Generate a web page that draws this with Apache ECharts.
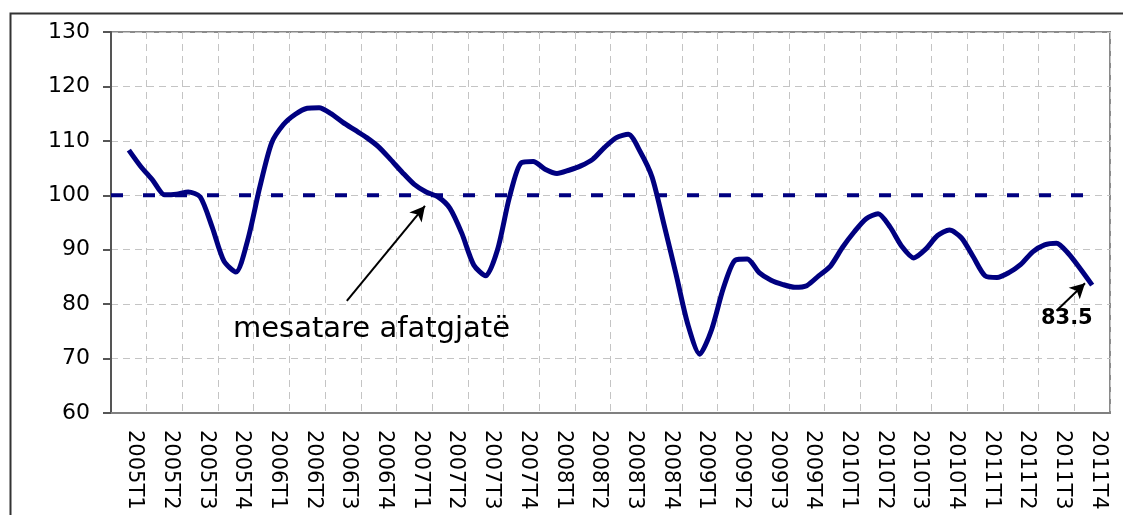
<!DOCTYPE html>
<html>
<head>
<meta charset="utf-8">
<title>mesatare afatgjatë</title>
<script src="https://cdn.jsdelivr.net/npm/echarts@6/dist/echarts.min.js"></script>
<style>
  html, body { margin: 0; padding: 0; background: #fff; }
  #chart { width: 1123px; height: 515px; }
</style>
</head>
<body>
<div id="chart"></div>
<script>
  // quarter labels on the x axis
  let quarters = [
    '2005T1', '2005T2', '2005T3', '2005T4',
    '2006T1', '2006T2', '2006T3', '2006T4',
    '2007T1', '2007T2', '2007T3', '2007T4',
    '2008T1', '2008T2', '2008T3', '2008T4',
    '2009T1', '2009T2', '2009T3', '2009T4',
    '2010T1', '2010T2', '2010T3', '2010T4',
    '2011T1', '2011T2', '2011T3', '2011T4'
  ];
  // monthly index, from the middle of 2005T1 to the middle of 2011T4
  let indexValues = [
    108.3, 105.3, 102.8, 100.1, 100.2, 100.6, 99.7, 94.2, 87.9, 85.9,
    91.8, 101.4, 109.6, 113.0, 114.9, 116.0, 116.1, 115.0, 113.4, 112.0,
    110.6, 108.9, 106.6, 104.2, 102.0, 100.6, 99.7, 97.6, 93.0, 87.2,
    85.2, 90.0, 99.6, 106.0, 106.2, 104.8, 104.0, 104.6, 105.4, 106.6,
    108.8, 110.6, 111.2, 108.0, 103.3, 94.6, 85.6, 76.3, 70.8, 75.3,
    83.0, 88.1, 88.3, 85.8, 84.4, 83.6, 83.1, 83.4, 85.2, 87.0,
    90.4, 93.3, 95.7, 96.6, 94.2, 90.6, 88.5, 90.1, 92.6, 93.6,
    92.2, 88.7, 85.2, 84.9, 85.8, 87.3, 89.6, 90.9, 91.2, 89.3,
    86.5, 83.5
  ];
  // long term average
  let longTermAvg = 100;
  let yTicks = [60, 70, 80, 90, 100, 110, 120, 130];

  // annotations (x in quarters, y in index points)
  let avgArrow = [[6.61, 80.6], [8.80, 98.05]];
  let avgText = { coord: [7.30, 75.4], text: 'mesatare afatgjatë' };
  let lastArrow = [[26.50, 78.8], [27.30, 83.85]];
  let lastText = { coord: [26.79, 77.3], text: '83.5' };

  // month i sits at quarter 0.5 + i/3 on the hidden value axis
  let lineData = indexValues.map(function (v, i) { return [0.5 + i / 3, v]; });
  let avgData = [[0, longTermAvg], [0.5 + (indexValues.length - 1) / 3, longTermAvg]];

  let gridDash = { color: '#c4c4c4', width: 1, type: [7, 5] };

  let chart = echarts.init(document.getElementById('chart'));
  chart.setOption({
    animation: false,
    backgroundColor: '#fff',
    textStyle: { fontFamily: 'DejaVu Sans' },
    grid: {
      left: 111, right: 13, top: 32, bottom: 102,
      show: true, borderColor: '#8a8a8a', borderWidth: 2, backgroundColor: '#fff'
    },
    graphic: [{
      type: 'rect',
      left: 8, top: 11,
      shape: { width: 1300, height: 700 },
      style: { fill: 'none', stroke: '#333', lineWidth: 2 },
      silent: true
    }],
    xAxis: [{
      type: 'category',
      data: quarters,
      boundaryGap: true,
      axisLine: { lineStyle: { color: '#808080', width: 2 } },
      axisTick: { show: false },
      axisLabel: {
        rotate: -90, interval: 0, margin: 17,
        color: '#000', fontSize: 21, fontFamily: 'DejaVu Sans',
        verticalAlign: 'bottom', lineHeight: 12
      },
      splitLine: { show: true, interval: 0, lineStyle: gridDash }
    }, {
      type: 'value',
      min: 0, max: quarters.length,
      show: false
    }],
    yAxis: {
      type: 'value',
      min: yTicks[0], max: yTicks[yTicks.length - 1], interval: 10,
      axisLine: { show: true, lineStyle: { color: '#555', width: 2 } },
      axisTick: { show: true, length: 8, lineStyle: { color: '#555', width: 2 } },
      axisLabel: { color: '#000', fontSize: 22, margin: 21, fontFamily: 'DejaVu Sans' },
      splitLine: { show: true, lineStyle: gridDash }
    },
    series: [{
      name: 'mesatare afatgjatë',
      type: 'line',
      xAxisIndex: 1,
      data: avgData,
      showSymbol: false,
      silent: true,
      lineStyle: { color: '#000080', width: 4, type: [12, 20] },
      z: 3
    }, {
      name: 'indeksi',
      type: 'line',
      xAxisIndex: 1,
      data: lineData,
      showSymbol: false,
      smooth: 0.25,
      lineStyle: { color: '#000080', width: 5 },
      z: 4,
      markLine: {
        silent: true,
        symbol: ['none', 'arrow'],
        symbolSize: [12, 15],
        label: { show: false },
        lineStyle: { color: '#000', width: 2, type: 'solid' },
        data: [
          [{ coord: avgArrow[0] }, { coord: avgArrow[1] }],
          [{ coord: lastArrow[0] }, { coord: lastArrow[1] }]
        ]
      },
      markPoint: {
        silent: true,
        symbol: 'rect',
        symbolSize: 1,
        itemStyle: { color: 'rgba(0,0,0,0)' },
        data: [{
          coord: avgText.coord,
          label: {
            show: true, position: 'inside', formatter: avgText.text,
            color: '#000', fontSize: 29, fontFamily: 'DejaVu Sans'
          }
        }, {
          coord: lastText.coord,
          label: {
            show: true, position: 'inside', formatter: lastText.text,
            color: '#000', fontSize: 21, fontWeight: 'bold', fontFamily: 'DejaVu Sans'
          }
        }]
      }
    }]
  });
</script>
</body>
</html>
